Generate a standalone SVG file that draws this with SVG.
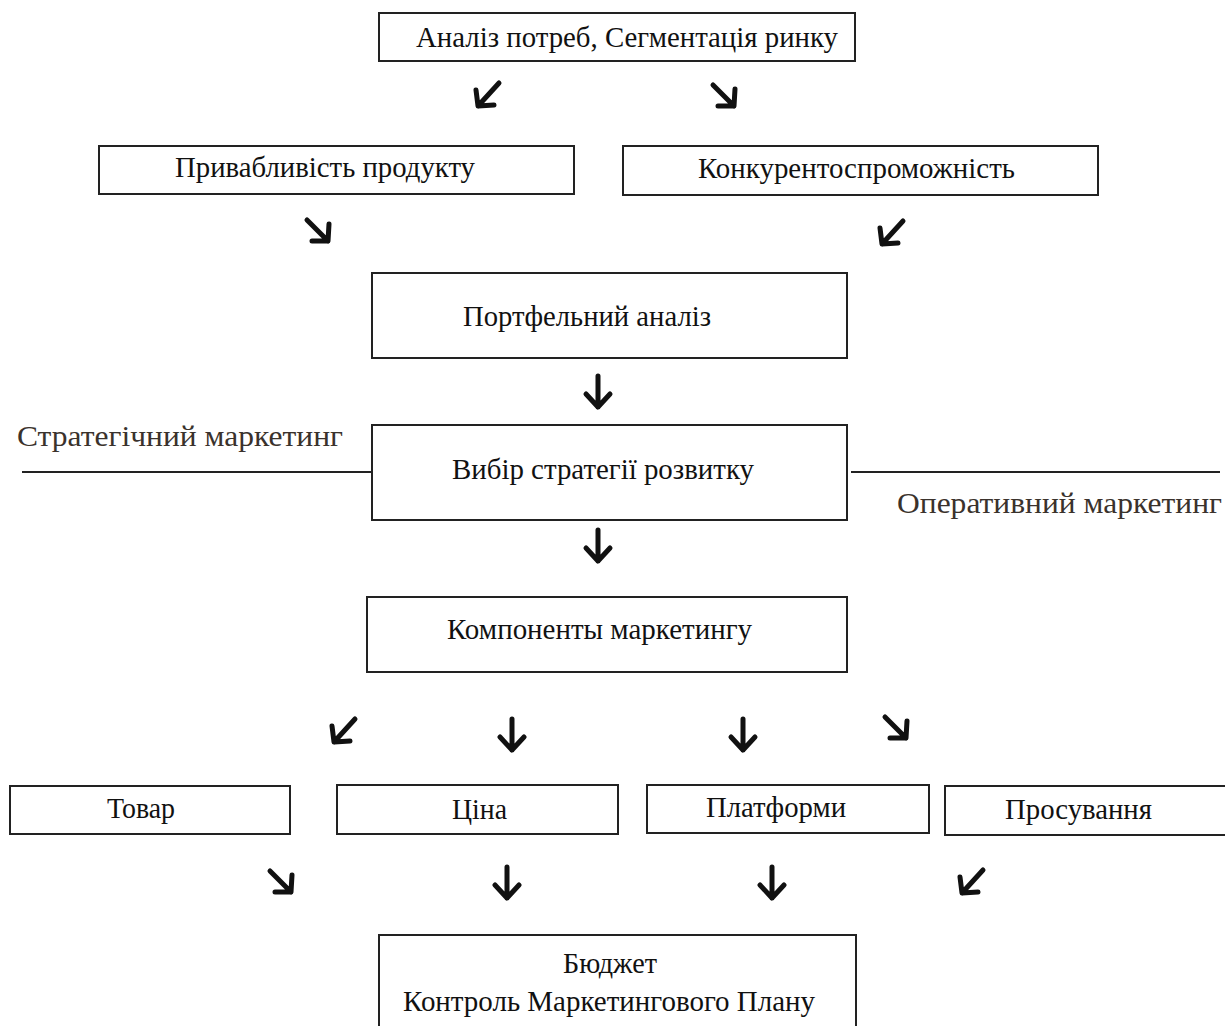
<svg xmlns="http://www.w3.org/2000/svg" xmlns:xlink="http://www.w3.org/1999/xlink" width="1225" height="1026" viewBox="0 0 1225 1026">
<style>
.box{fill:#fff;stroke:#222;stroke-width:2}
.t{font-family:"Liberation Serif","Times New Roman",serif;font-size:29px;fill:#111}
.side{font-family:"Liberation Serif","Times New Roman",serif;font-size:30px;fill:#3a322c}
.arr{fill:none;stroke:#111;stroke-width:5;stroke-linecap:round;stroke-linejoin:round}
.sep{stroke:#222;stroke-width:2}
</style>
<defs>
<path id="dl" class="arr" d="M25,2 L4,25 M2,9 L4,25 L20,24"/>
<path id="dr" class="arr" d="M3,2 L24,23 M25,6 L24,23 L8,23"/>
<path id="dn" class="arr" d="M15,2 V33 M3,20 L15,33 L27,20"/>
</defs>
<rect width="1225" height="1026" fill="#fff"/>
<g id="n1"><rect class="box" x="379" y="13" width="476" height="48"/><text class="t" x="416" y="47" textLength="422" lengthAdjust="spacingAndGlyphs">Аналіз потреб, Сегментація ринку</text></g>
<g id="n2"><rect class="box" x="99" y="146" width="475" height="48"/><text class="t" x="175" y="177" textLength="300" lengthAdjust="spacingAndGlyphs">Привабливість продукту</text></g>
<g id="n3"><rect class="box" x="623" y="146" width="475" height="49"/><text class="t" x="698" y="178" textLength="317" lengthAdjust="spacingAndGlyphs">Конкурентоспроможність</text></g>
<g id="n4"><rect class="box" x="372" y="273" width="475" height="85"/><text class="t" x="463" y="326" textLength="248" lengthAdjust="spacingAndGlyphs">Портфельний аналіз</text></g>
<g id="n5"><rect class="box" x="372" y="425" width="475" height="95"/><text class="t" x="452" y="479" textLength="302" lengthAdjust="spacingAndGlyphs">Вибір стратегії розвитку</text></g>
<g id="n6"><rect class="box" x="367" y="597" width="480" height="75"/><text class="t" x="447" y="639" textLength="305" lengthAdjust="spacingAndGlyphs">Компоненты маркетингу</text></g>
<g id="n7"><rect class="box" x="10" y="786" width="280" height="48"/><text class="t" x="107" y="818" textLength="68" lengthAdjust="spacingAndGlyphs">Товар</text></g>
<g id="n8"><rect class="box" x="337" y="785" width="281" height="49"/><text class="t" x="452" y="819" textLength="55" lengthAdjust="spacingAndGlyphs">Ціна</text></g>
<g id="n9"><rect class="box" x="647" y="785" width="282" height="48"/><text class="t" x="706" y="817" textLength="140" lengthAdjust="spacingAndGlyphs">Платформи</text></g>
<g id="n10"><rect class="box" x="945" y="786" width="290" height="49"/><text class="t" x="1005" y="819" textLength="147" lengthAdjust="spacingAndGlyphs">Просування</text></g>
<g id="n11"><rect class="box" x="379" y="935" width="477" height="100"/><text class="t" x="563" y="973" textLength="94" lengthAdjust="spacingAndGlyphs">Бюджет</text><text class="t" x="403" y="1011" textLength="412" lengthAdjust="spacingAndGlyphs">Контроль Маркетингового Плану</text></g>
<g id="labels">
<line class="sep" x1="22" y1="472" x2="372" y2="472"/>
<line class="sep" x1="851" y1="472" x2="1220" y2="472"/>
<text class="side" x="17" y="446" textLength="326" lengthAdjust="spacingAndGlyphs">Стратегічний маркетинг</text>
<text class="side" x="897" y="513" textLength="325" lengthAdjust="spacingAndGlyphs">Оперативний маркетинг</text>
</g>
<g id="connectors">
<use xlink:href="#dl" x="474" y="81"/>
<use xlink:href="#dr" x="710" y="83"/>
<use xlink:href="#dr" x="304" y="218"/>
<use xlink:href="#dl" x="878" y="219"/>
<use xlink:href="#dn" x="583" y="374"/>
<use xlink:href="#dn" x="583" y="528"/>
<use xlink:href="#dl" x="330" y="717"/>
<use xlink:href="#dn" x="497" y="717"/>
<use xlink:href="#dn" x="728" y="717"/>
<use xlink:href="#dr" x="882" y="715"/>
<use xlink:href="#dr" x="267" y="869"/>
<use xlink:href="#dn" x="492" y="865"/>
<use xlink:href="#dn" x="757" y="865"/>
<use xlink:href="#dl" x="958" y="868"/>
</g>
</svg>
